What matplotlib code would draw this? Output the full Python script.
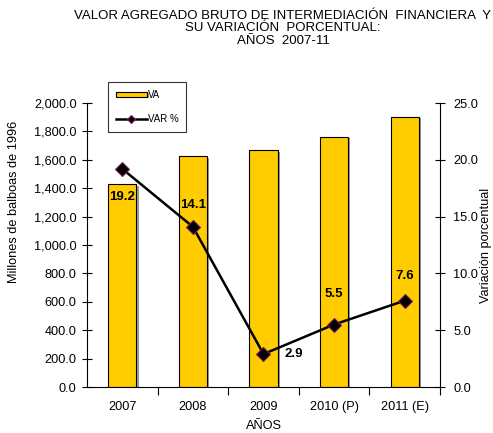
import matplotlib
matplotlib.use("Agg")
import matplotlib.pyplot as plt
import matplotlib.patheffects as pe
import numpy as np

plt.rcParams['font.family'] = ['Liberation Sans', 'DejaVu Sans']

years = ["2007", "2008", "2009", "2010 (P)", "2011 (E)"]
va = [1428, 1625, 1668, 1760, 1901]
var_pct = [19.2, 14.1, 2.9, 5.5, 7.6]
# label offsets in points (dx, dy)
label_offsets = [(0, -20), (0, 16), (22, 0), (0, 22), (0, 18)]

fig = plt.figure(figsize=(4.93, 4.33), dpi=100)
ax = fig.add_axes([87 / 493, 46 / 433, 353 / 493, 284 / 433])
x = np.arange(len(years))

bars = ax.bar(x, va, width=0.4, color="#FFCC00", edgecolor="black", linewidth=0.8,
              label="VA", zorder=2)
for b in bars:
    b.set_path_effects([pe.SimplePatchShadow(offset=(1.5, -1), shadow_rgbFace="#999999", alpha=1),
                        pe.Normal()])

ax.set_xlim(-0.5, 4.5)
ax.set_ylim(0, 2000)
ax.set_yticks(np.arange(0, 2001, 200))
ax.set_yticklabels([f"{v:,.1f}" for v in np.arange(0, 2001, 200)])
ax.set_xticks(x)
ax.set_xticklabels(years)
ax.set_xticks(np.arange(0.5, 4.6, 1), minor=True)
ax.tick_params(axis="x", which="major", length=0, pad=10, labelsize=9.2)
ax.tick_params(axis="x", which="minor", length=6, direction="out", width=0.8)
ax.tick_params(axis="y", length=7, direction="inout", width=0.8, labelsize=9.2, pad=4)
ax.spines["top"].set_visible(False)
ax.spines["right"].set_visible(False)
ax.set_ylabel("Millones de balboas de 1996", fontsize=9.2)
ax.yaxis.set_label_coords(-0.19, 0.65)
ax.set_xlabel("AÑOS", fontsize=9.2, labelpad=5)

ax2 = ax.twinx()
ax2.set_ylim(0, 25)
ax2.set_yticks(np.arange(0, 26, 5))
ax2.set_yticklabels([f"{v:.1f}" for v in np.arange(0, 26, 5)])
ax2.tick_params(axis="y", length=7, direction="inout", width=0.8, labelsize=9.2, pad=6)
for s in ["top", "left", "bottom"]:
    ax2.spines[s].set_visible(False)
line, = ax2.plot(x, var_pct, color="black", linewidth=1.8, marker="D", markersize=7,
                 markerfacecolor="black", markeredgecolor="#7a1a5a", markeredgewidth=0.8,
                 label="VAR %", zorder=3)
for xi, v, (dx, dy) in zip(x, var_pct, label_offsets):
    ax2.annotate(f"{v:.1f}", (xi, v), xytext=(dx, dy), textcoords="offset points",
                 ha="center", va="center", fontsize=9.5, fontweight="bold")

fig.text(0.985, (433 - 245) / 433, "Variación porcentual", rotation=90,
         ha="center", va="center", fontsize=9.2)

leg = fig.legend([bars, line], ["VA", "VAR %"], loc="upper left",
                 bbox_to_anchor=(108 / 493, 1 - 82 / 433), fontsize=7, frameon=True,
                 fancybox=False, edgecolor="black", handlelength=3.2, handleheight=0.5,
                 labelspacing=1.5, borderpad=0.8, handletextpad=0.1, markerscale=0.6,
                 borderaxespad=0)
leg.get_frame().set_linewidth(0.8)

fig.text(283 / 493, 1 - 10 / 433,
         "VALOR AGREGADO BRUTO DE INTERMEDIACIÓN  FINANCIERA  Y\nSU VARIACIÓN  PORCENTUAL:\nAÑOS  2007-11",
         ha="center", va="top", fontsize=9.5, linespacing=1.05)

fig.savefig("out.png", dpi=100)
